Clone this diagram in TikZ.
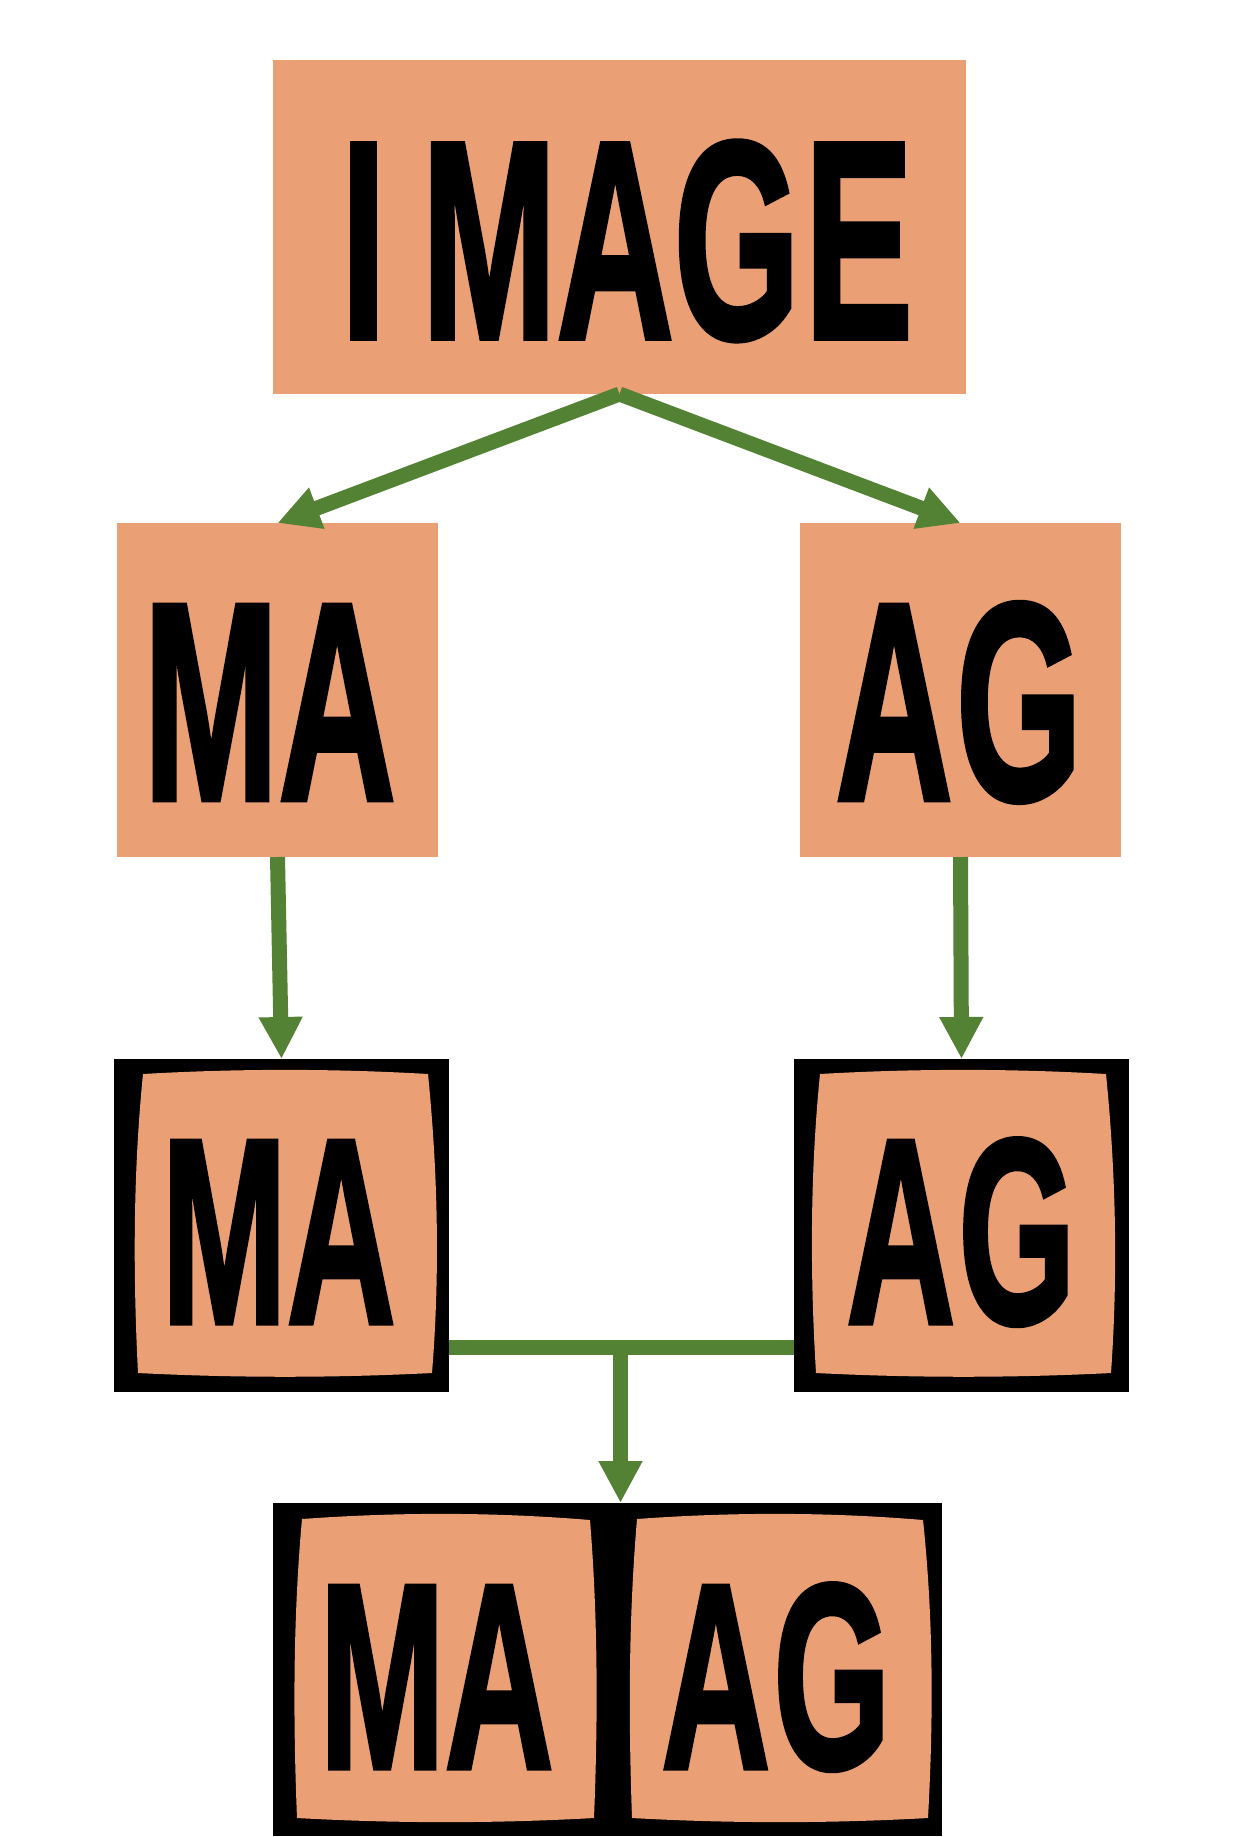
\documentclass[tikz,border=0pt]{standalone}
\usepackage{graphicx}
\usepackage{fontspec}
\setmainfont{Liberation Sans}
\newfontfamily\heavy[BoldFeatures={FakeBold=2}]{Liberation Sans}
\usetikzlibrary{arrows.meta}
\definecolor{sal}{RGB}{234,159,116}
\definecolor{grn}{RGB}{84,130,53}
\newcommand{\bigtxt}[1]{\scalebox{0.575}[1]{\fontsize{141pt}{141pt}\heavy\bfseries #1}}
\newcommand{\midtxt}[1]{\scalebox{0.57}[1]{\fontsize{132pt}{132pt}\heavy\bfseries #1}}
\begin{document}
\begin{tikzpicture}[x=0.5pt,y=-0.5pt,
  salbox/.style={rectangle, fill=sal, draw=none, inner sep=0pt, outer sep=0pt},
  blkbox/.style={rectangle, fill=black, draw=none, inner sep=0pt, outer sep=0pt},
  lbl/.style={anchor=base west, inner sep=0pt, outer sep=0pt, text=black},
  link/.style={draw=grn, line width=7.5pt},
  arr/.style={link, -{Triangle[length=21pt,width=20.5pt]}}]
\useasboundingbox (0,0) rectangle (1232,1837);
% boxes
\node[salbox, minimum width=346.5pt, minimum height=167pt] (top) at (619.5,227) {};
\node[salbox, minimum width=160.5pt, minimum height=167pt] (ma2) at (277.5,690) {};
\node[salbox, minimum width=160.5pt, minimum height=167pt] (ag2) at (960.5,690) {};
\node[blkbox, minimum width=167.5pt, minimum height=166.5pt] (ma3) at (281.5,1225.5) {};
\node[blkbox, minimum width=167.5pt, minimum height=166.5pt] (ag3) at (961.5,1225.5) {};
\node[blkbox, minimum width=334.5pt, minimum height=166.5pt] (res) at (607.5,1669.5) {};
% warped panels
\fill[sal] (143,1074) .. controls (238,1068.5) and (333,1068.5) .. (428,1074)
  .. controls (438,1174) and (440,1274) .. (432,1373)
  .. controls (333,1378) and (237,1378) .. (138,1373)
  .. controls (133,1274) and (133,1174) .. cycle;
\fill[sal] (820,1074) .. controls (915,1068.5) and (1011,1068.5) .. (1106,1074)
  .. controls (1116,1174) and (1118,1274) .. (1111,1373)
  .. controls (1012,1378) and (915,1378) .. (816,1373)
  .. controls (810,1274) and (810,1174) .. cycle;
\fill[sal] (302,1519) .. controls (398,1512) and (494,1512) .. (590,1520)
  .. controls (598,1619) and (598,1719) .. (594,1818)
  .. controls (495,1823.5) and (396,1823.5) .. (297,1818)
  .. controls (293,1719) and (293,1619) .. cycle;
\fill[sal] (637,1519) .. controls (732,1512) and (828,1512) .. (923,1520)
  .. controls (933.5,1619) and (933.5,1719) .. (928,1818)
  .. controls (829,1823.5) and (731,1823.5) .. (632,1818)
  .. controls (628.5,1719) and (628.5,1619) .. cycle;
% texts
\node[lbl] (t1) at (341,338) {\bigtxt{I\hspace{31pt}MAG\kern4pt E}};
\node[lbl] (t2) at (143.5,799.5) {\bigtxt{MA}};
\node[lbl] (t3) at (835.5,799.5) {\bigtxt{A\kern3pt G}};
\node[lbl] (t4) at (161.5,1323) {\midtxt{MA}};
\node[lbl] (t5) at (846.5,1323) {\midtxt{A\kern3pt G}};
\node[lbl] (t6) at (319.5,1768) {\midtxt{MA}};
\node[lbl] (t7) at (661.5,1768) {\midtxt{A\kern3pt G}};
% connectors
\draw[arr] (top.south) -- (ma2.north);
\draw[arr] (top.south) -- (ag2.north);
\draw[arr] (ma2.south) -- (ma3.north);
\draw[arr] (ag2.south) -- (ag3.north);
\coordinate (mj) at (620.5,1347);
\draw[link] (ma3.east |- mj) -- (ag3.west |- mj);
\draw[arr] (mj) -- (mj |- res.north);
\end{tikzpicture}
\end{document}
